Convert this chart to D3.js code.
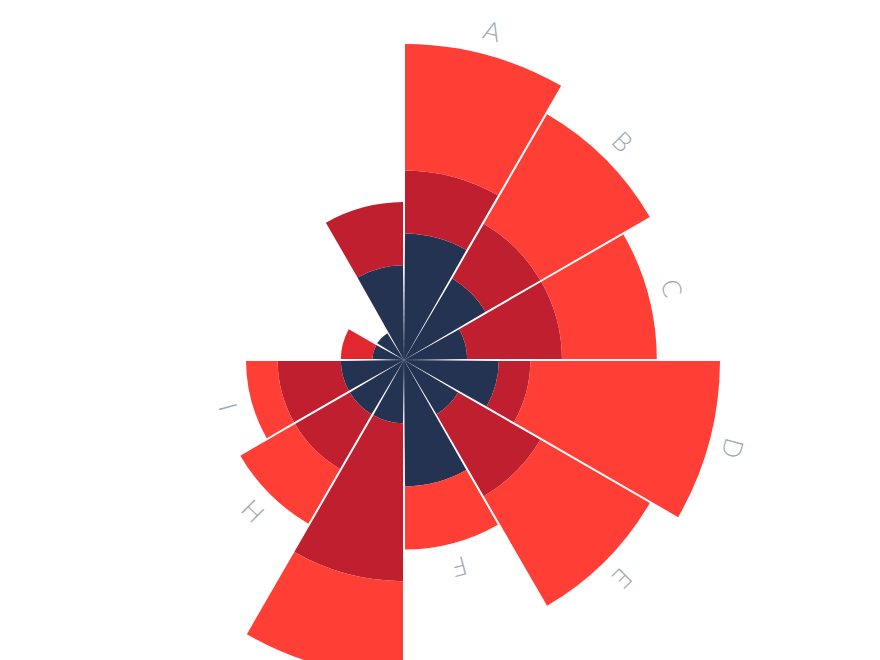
<!DOCTYPE html>
<html>
<head>
<meta charset="utf-8">
<script src="https://cdn.jsdelivr.net/npm/d3@7"></script>
<style>
    html, body { margin: 0; padding: 0; background: #fff; }
    svg { display: block; }
</style>
</head>
<body>
<svg width="880" height="660"></svg>
<script>
// categories around the circle, clockwise from 12 o'clock
const categories = ["A", "B", "C", "D", "E", "F", "G", "H", "I", "J", "K", "L"];
const labels = ["A", "B", "C", "D", "E", "F", "G", "H", "I", "", "", ""];

// stacked series, inner to outer
const innerValues = [2, 1.5, 1, 1.5, 1, 2, 1, 1, 1, 0.5, 0.5, 1.5];
const middleValues = [1, 1, 1.5, 0.5, 1.5, 0, 2.5, 1, 1, 0.5, 0, 1];
const outerValues = [2, 2, 1.5, 3, 2, 1, 1.5, 1, 0.5, 0, 0, 0];

const seriesKeys = ["inner", "middle", "outer"];
const seriesColors = ["#253352", "#c01f2f", "#ff3e36"];
const highlightColor = "#e0282e";
const highlightIndex = 9;

const attr_area = {
    width: 880,
    height: 660,
    cx: 404,
    cy: 360,
    radius: 316
};

const rows = categories.map((c, i) => ({
    category: c,
    label: labels[i],
    inner: innerValues[i],
    middle: middleValues[i],
    outer: outerValues[i]
}));

const svg = d3.select("svg");
const g = svg.append("g")
    .attr("transform", `translate(${attr_area.cx}, ${attr_area.cy})`);

const scaleAngle = d3.scaleBand()
    .domain(categories)
    .range([0, 2 * Math.PI])
    .padding(0);

const scaleR = d3.scaleLinear()
    .domain([0, 5])
    .range([0, attr_area.radius]);

const stacked = d3.stack().keys(seriesKeys)(rows);

const arc = d3.arc()
    .innerRadius(d => scaleR(d[0]))
    .outerRadius(d => scaleR(d[1]))
    .startAngle(d => scaleAngle(d.data.category))
    .endAngle(d => scaleAngle(d.data.category) + scaleAngle.bandwidth())
    .padAngle(0.02)
    .padRadius(100);

stacked.forEach((layer, li) => {
    g.append("g")
        .selectAll("path")
        .data(layer.filter(d => d[1] > d[0]))
        .enter()
        .append("path")
        .attr("d", arc)
        .style("fill", d => (li === 1 && categories.indexOf(d.data.category) === highlightIndex)
            ? highlightColor : seriesColors[li]);
});

// labels just outside each sector, rotated with the angle
const totals = rows.map(d => d.inner + d.middle + d.outer);

g.append("g")
    .selectAll("text")
    .data(rows.filter(d => d.label !== ""))
    .enter()
    .append("text")
    .attr("transform", d => {
        const i = categories.indexOf(d.category);
        const a = scaleAngle(d.category) + scaleAngle.bandwidth() / 2;
        const r = scaleR(totals[i]) + 25;
        const x = Math.sin(a) * r;
        const y = -Math.cos(a) * r;
        return `translate(${x}, ${y}) rotate(${a * 180 / Math.PI})`;
    })
    .attr("text-anchor", "middle")
    .attr("dominant-baseline", "central")
    .style("font-family", "Lato, 'Open Sans', sans-serif")
    .style("font-weight", 300)
    .style("font-size", "26px")
    .style("fill", "#9ba8b1")
    .text(d => d.label);
</script>
</body>
</html>
